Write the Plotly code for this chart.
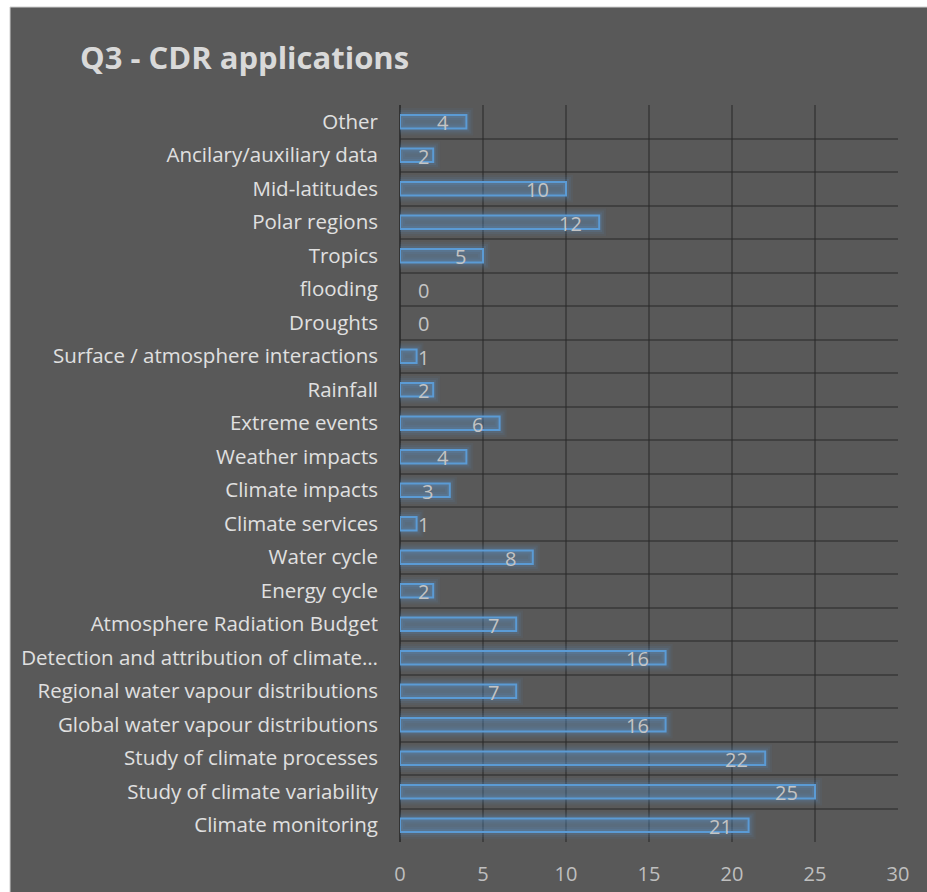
import plotly.graph_objects as go

categories = [
    "Climate monitoring",
    "Study of climate variability",
    "Study of climate processes",
    "Global water vapour distributions",
    "Regional water vapour distributions",
    "Detection and attribution of climate…",
    "Atmosphere Radiation Budget",
    "Energy cycle",
    "Water cycle",
    "Climate services",
    "Climate impacts",
    "Weather impacts",
    "Extreme events",
    "Rainfall",
    "Surface / atmosphere interactions",
    "Droughts",
    "flooding",
    "Tropics",
    "Polar regions",
    "Mid-latitudes",
    "Ancilary/auxiliary data",
    "Other",
]
values = [21, 25, 22, 16, 7, 16, 7, 2, 8, 1, 3, 4, 6, 2, 1, 0, 0, 5, 12, 10, 2, 4]
x_ticks = [0, 5, 10, 15, 20, 25, 30]
title_text = "Q3 - CDR applications"

BG = "#595959"
BLUE = "#5b9bd5"
GRID = "rgba(40,40,40,0.5)"
W, H = 927, 892
L, R, T, B = 400, 29, 105, 50
pw = W - L - R
ph = H - T - B

def widths(w):
    return [w if v > 0 else 0 for v in values]

fig = go.Figure()
# soft glow layers around the bars
for lw, op in [(14, 0.06), (10, 0.09), (6, 0.13)]:
    fig.add_trace(go.Bar(
        x=values, y=categories, orientation="h",
        marker=dict(color="rgba(0,0,0,0)",
                    line=dict(color=f"rgba(91,155,213,{op})", width=widths(lw))),
        hoverinfo="skip", showlegend=False,
    ))
fig.add_trace(go.Bar(
    x=values, y=categories, orientation="h",
    marker=dict(color="rgba(91,155,213,0.26)", line=dict(color=BLUE, width=widths(2))),
    showlegend=False,
))

annotations = []
for c, v in zip(categories, values):
    if v >= 3:
        annotations.append(dict(x=v, y=c, xref="x", yref="y", text=str(v), showarrow=False,
                                xanchor="right", xshift=-15, yshift=-1,
                                font=dict(family="Open Sans", size=20, color="#c4c4c4")))
    else:
        annotations.append(dict(x=0, y=c, xref="x", yref="y", text=str(v), showarrow=False,
                                xanchor="left", xshift=16, yshift=-1,
                                font=dict(family="Open Sans", size=20, color="#c4c4c4")))

annotations.append(dict(text="<b>" + title_text + "</b>", xref="paper", yref="paper",
                        x=(78 - L) / pw, y=(H - B - 57) / ph,
                        xanchor="left", yanchor="middle", showarrow=False,
                        font=dict(family="Open Sans", size=31, color="#d9d9d9")))

fig.update_layout(
    width=W, height=H,
    margin=dict(l=L, r=R, t=T, b=B, autoexpand=False),
    paper_bgcolor="white",
    plot_bgcolor="rgba(0,0,0,0)",
    barmode="overlay",
    bargap=0.6,
    annotations=annotations,
    shapes=[dict(type="rect", xref="paper", yref="paper", layer="below",
                 x0=(10 - L) / pw, x1=(W + 4 - L) / pw,
                 y0=(-(B + 4)) / ph, y1=(H - B - 7) / ph,
                 fillcolor=BG, line=dict(color="#cfcfcf", width=1))],
    xaxis=dict(range=[0, 30], tickvals=x_ticks, showgrid=True, gridcolor=GRID, gridwidth=1.5,
               zeroline=True, zerolinecolor="rgba(40,40,40,0.8)", zerolinewidth=2,
               tickfont=dict(family="Open Sans", size=20, color="#bfbfbf"),
               ticklabelstandoff=18, showline=False, fixedrange=True),
    yaxis=dict(type="category", categoryorder="array", categoryarray=categories,
               tickson="boundaries", showgrid=True, gridcolor=GRID, gridwidth=1.5,
               ticks="", tickfont=dict(family="Open Sans", size=20.5, color="#e0e0e0"),
               ticklabelstandoff=21, showline=False, zeroline=False),
    font=dict(family="Open Sans"),
)

fig.write_html("out.html", config={"displayModeBar": False},
               post_script="document.body.style.margin='0';document.body.style.overflow='hidden';")
